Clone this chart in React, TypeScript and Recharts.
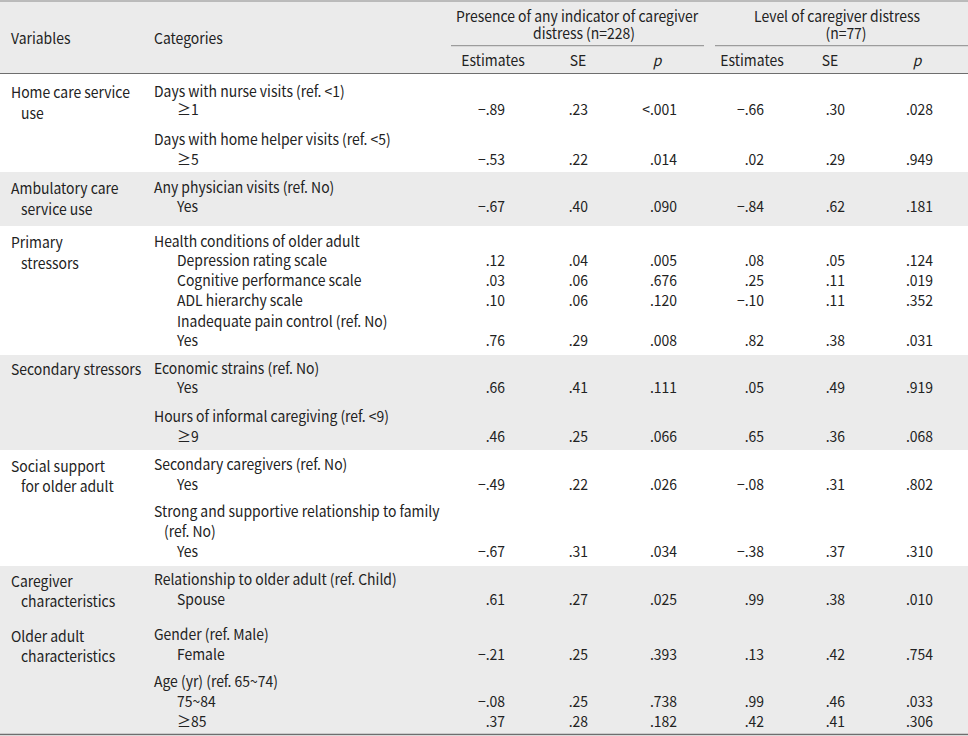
import React from 'react';
import { ScatterChart, Scatter, XAxis, YAxis, ReferenceArea, ReferenceLine } from 'recharts';

const W = 968;
const H = 736;
const FONT = '"Noto Sans CJK KR", "Noto Sans", sans-serif';
const INK = '#222';
const SHADE = '#ebebeb';

// ---- table content ----
const groupTitles = ['Presence of any indicator of caregiver', 'distress (n=228)', 'Level of caregiver distress', '(n=77)'];
const subHeaders = ['Estimates', 'SE', 'p', 'Estimates', 'SE', 'p'];

const variables = [
    ['Home care service', 'use'],
    ['Ambulatory care', 'service use'],
    ['Primary', 'stressors'],
    ['Secondary stressors'],
    ['Social support', 'for older adult'],
    ['Caregiver', 'characteristics'],
    ['Older adult', 'characteristics'],
];
// index of the first category line for each variable
const variableStart = [0, 4, 6, 12, 16, 21, 23];

// h = heading, v = row with values, s = sub-heading without values, c = wrapped continuation
const categories: [string, string][] = [
    ['Days with nurse visits (ref. <1)', 'h'],
    ['≥1', 'v'],
    ['Days with home helper visits (ref. <5)', 'h'],
    ['≥5', 'v'],
    ['Any physician visits (ref. No)', 'h'],
    ['Yes', 'v'],
    ['Health conditions of older adult', 'h'],
    ['Depression rating scale', 'v'],
    ['Cognitive performance scale', 'v'],
    ['ADL hierarchy scale', 'v'],
    ['Inadequate pain control (ref. No)', 's'],
    ['Yes', 'v'],
    ['Economic strains (ref. No)', 'h'],
    ['Yes', 'v'],
    ['Hours of informal caregiving (ref. <9)', 'h'],
    ['≥9', 'v'],
    ['Secondary caregivers (ref. No)', 'h'],
    ['Yes', 'v'],
    ['Strong and supportive relationship to family', 'h'],
    ['(ref. No)', 'c'],
    ['Yes', 'v'],
    ['Relationship to older adult (ref. Child)', 'h'],
    ['Spouse', 'v'],
    ['Gender (ref. Male)', 'h'],
    ['Female', 'v'],
    ['Age (yr) (ref. 65~74)', 'h'],
    ['75~84', 'v'],
    ['≥85', 'v'],
];

const estA = [-0.89, -0.53, -0.67, 0.12, 0.03, 0.10, 0.76, 0.66, 0.46, -0.49, -0.67, 0.61, -0.21, -0.08, 0.37];
const seA = [0.23, 0.22, 0.40, 0.04, 0.06, 0.06, 0.29, 0.41, 0.25, 0.22, 0.31, 0.27, 0.25, 0.25, 0.28];
const pA = ['<.001', '.014', '.090', '.005', '.676', '.120', '.008', '.111', '.066', '.026', '.034', '.025', '.393', '.738', '.182'];
const estB = [-0.66, 0.02, -0.84, 0.08, 0.25, -0.10, 0.82, 0.05, 0.65, -0.08, -0.38, 0.99, 0.13, 0.99, 0.42];
const seB = [0.30, 0.29, 0.62, 0.05, 0.11, 0.11, 0.38, 0.49, 0.36, 0.31, 0.37, 0.38, 0.42, 0.46, 0.41];
const pB = ['.028', '.949', '.181', '.124', '.019', '.352', '.031', '.919', '.068', '.802', '.310', '.010', '.754', '.033', '.306'];

// ---- layout ----
const lineY = [96.5, 115, 145, 164.5, 192.5, 212, 246.5, 266, 286, 306, 326.5, 346, 373.5, 393, 422, 441.5,
    470, 490, 517, 537, 557, 585, 605, 640, 659.5, 686.5, 706.5, 726.5];
const colRight = [505, 588, 677, 764, 845, 933];
const subCenter = [493, 578, 657, 752, 830, 917];
const shadedBands = [[0, 73.5], [172, 226], [355, 450], [566, 734]];

const fmt = (v: number) => (v < 0 ? '−' : '') + Math.abs(v).toFixed(2).replace(/^0/, '');

const valueLines = categories.map((c, i) => (c[1] === 'v' ? i : -1)).filter(i => i >= 0);

// the source typeface is narrower than Noto, so squeeze horizontally
function textShape(anchor: 'start' | 'middle' | 'end', italic = false) {
    return (p: any) => (
        <text transform={`translate(${p.cx},${p.cy}) scale(0.93,1)`} x={0} y={0} textAnchor={anchor}
            fontFamily={FONT} fontSize={15} fontStyle={italic ? 'italic' : 'normal'} fill={INK}>
            {p.payload.t}
        </text>
    );
}

export default function App() {
    const varPts: any[] = [];
    variables.forEach((lines, i) => {
        lines.forEach((t, k) => {
            varPts.push({ x: k === 0 ? 11 : 21, y: lineY[variableStart[i]] + 1.5 + k * 20.5, t });
        });
    });

    const catPts = categories.map(([t, kind], i) => ({
        x: kind === 'h' ? 154 : kind === 'c' ? 164 : 177,
        y: lineY[i],
        t,
    }));

    const cols = [estA.map(fmt), seA.map(fmt), pA, estB.map(fmt), seB.map(fmt), pB];
    const valueSeries = cols.map((vals, c) => vals.map((t, r) => ({ x: colRight[c], y: lineY[valueLines[r]], t })));

    const headPts = [
        { x: 11, y: 44, t: 'Variables' },
        { x: 154, y: 44, t: 'Categories' },
    ];
    const groupPts = [
        { x: 577, y: 21.5, t: groupTitles[0] },
        { x: 584, y: 38.5, t: groupTitles[1] },
        { x: 837, y: 21.5, t: groupTitles[2] },
        { x: 846, y: 38.5, t: groupTitles[3] },
    ];
    const subPts = subHeaders.map((t, i) => ({ x: subCenter[i], y: 66, t })).filter(d => d.t !== 'p');
    const pPts = subHeaders.map((t, i) => ({ x: subCenter[i], y: 66, t })).filter(d => d.t === 'p');

    return (
        <div style={{ position: 'absolute', left: 0, top: 0, width: W, height: H, background: '#fff' }}>
            <ScatterChart width={W} height={H} margin={{ top: 0, right: 0, bottom: 0, left: 0 }}>
                <XAxis type="number" dataKey="x" domain={[0, W]} hide allowDataOverflow />
                <YAxis type="number" dataKey="y" domain={[0, H]} reversed hide allowDataOverflow />
                {shadedBands.map(([a, b], i) => (
                    <ReferenceArea key={i} x1={0} x2={W} y1={a} y2={b} fill={SHADE} fillOpacity={1} stroke="none" />
                ))}
                <ReferenceLine y={1} stroke="#8a8a8a" strokeWidth={1} />
                <ReferenceLine segment={[{ x: 451, y: 45.7 }, { x: 704, y: 45.7 }]} stroke="#8a8a8a" strokeWidth={1} />
                <ReferenceLine segment={[{ x: 715, y: 45.7 }, { x: W, y: 45.7 }]} stroke="#8a8a8a" strokeWidth={1} />
                <ReferenceLine y={73.5} stroke="#6e6e6e" strokeWidth={1.2} />
                <ReferenceLine y={734.5} stroke="#6e6e6e" strokeWidth={1.5} />

                <Scatter data={headPts} shape={textShape('start')} isAnimationActive={false} />
                <Scatter data={groupPts} shape={textShape('middle')} isAnimationActive={false} />
                <Scatter data={subPts} shape={textShape('middle')} isAnimationActive={false} />
                <Scatter data={pPts} shape={textShape('middle', true)} isAnimationActive={false} />
                <Scatter data={varPts} shape={textShape('start')} isAnimationActive={false} />
                <Scatter data={catPts} shape={textShape('start')} isAnimationActive={false} />
                {valueSeries.map((d, i) => (
                    <Scatter key={i} data={d} shape={textShape('end')} isAnimationActive={false} />
                ))}
            </ScatterChart>
        </div>
    );
}
